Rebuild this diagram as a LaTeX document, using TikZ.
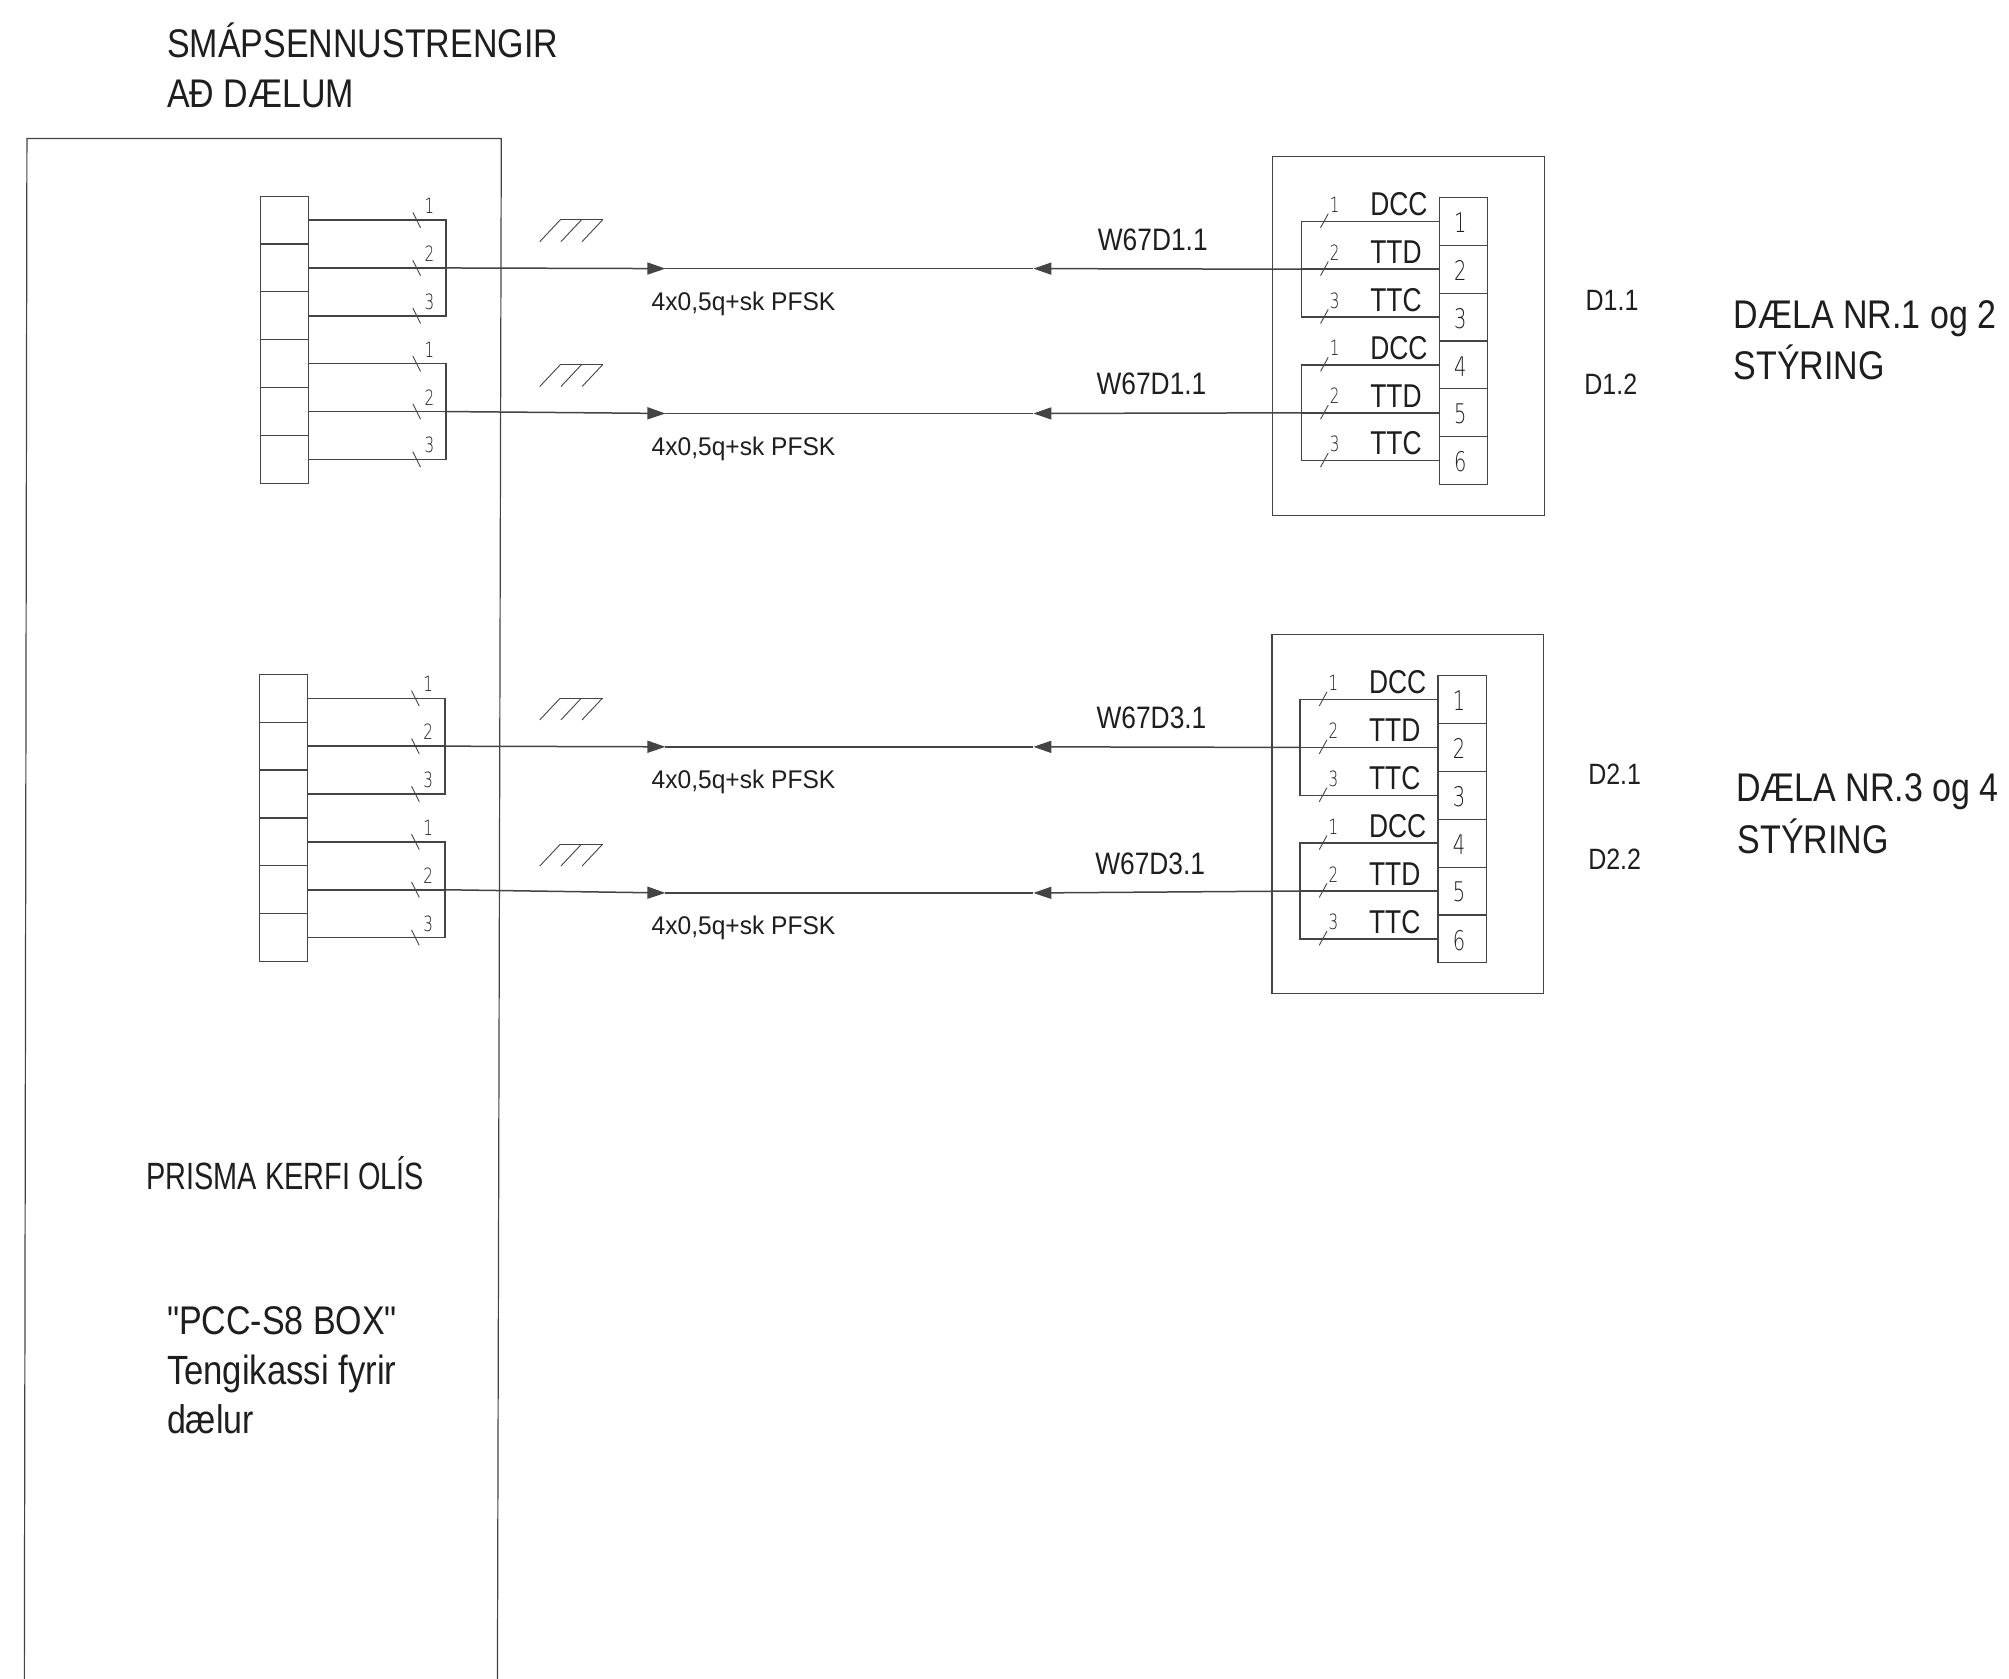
\documentclass[tikz,border=0pt]{standalone}
\usepackage{fontspec}
\usetikzlibrary{arrows.meta}
\setmainfont{Liberation Sans}
\newfontfamily\fa[FakeStretch=.85]{Liberation Sans}
\newfontfamily\fb[FakeStretch=.96]{Liberation Sans}
\newfontfamily\fc[FakeStretch=.76]{Liberation Sans}
\newfontfamily\fd[FakeStretch=.8]{Liberation Sans}
\newfontfamily\thinf[FakeStretch=.72]{DejaVu Sans ExtraLight}
\definecolor{ink}{HTML}{1E1E1E}
\definecolor{wirec}{HTML}{444444}
\tikzset{
  wire/.style={draw=wirec,line width=.75pt},
  boxline/.style={draw=wirec,line width=.6pt},
  cell/.style={draw=wirec,line width=.6pt,minimum width=24.2pt,minimum height=23.93pt,inner sep=0pt,outer sep=0pt},
  tick/.style={draw=wirec,line width=.45pt},
  lab/.style={anchor=base west,inner sep=0pt,text=ink},
  bigtxt/.style={lab,font=\fa\fontsize{20}{24}\selectfont},
  tengi/.style={lab,font=\fa\fontsize{20.4}{24}\selectfont},
  prisma/.style={lab,font=\fc\fontsize{19}{23}\selectfont},
  medtxt/.style={lab,font=\fa\fontsize{15.5}{18}\selectfont},
  dtxt/.style={lab,font=\fa\fontsize{14.7}{18}\selectfont},
  cabtxt/.style={lab,font=\fb\fontsize{12.8}{16}\selectfont},
  sigtxt/.style={lab,font=\fd\fontsize{16.5}{20}\selectfont},
  num/.style={inner sep=0pt,text=ink,font=\thinf\fontsize{13.5}{16}\selectfont},
  smallnum/.style={inner sep=0pt,text=ink,font=\thinf\fontsize{10.5}{13}\selectfont},
  tip/.style={-{Triangle[length=9pt,width=6pt]}},
}
% #1 id, #2 left x of left block, #3 top y of left block, #4 x of left bus
\newcommand{\leftblock}[4]{%
  \foreach \i in {1,...,6}{
    \node[cell] (L#1c\i) at ({#2+19},{#3+18.67+(\i-1)*37.33}) {};
  }
  \foreach \g/\a/\b/\c in {u/1/2/3,d/4/5/6}{
    \coordinate (L#1\g a) at (#4,{#3+18.67+(\a-1)*37.33});
    \coordinate (L#1\g b) at (#4,{#3+18.67+(\b-1)*37.33});
    \coordinate (L#1\g c) at (#4,{#3+18.67+(\c-1)*37.33});
    \draw[wire] (L#1c\a.east) -- (L#1\g a) -- (L#1\g c) -- (L#1c\c.east);
    \draw[wire] (L#1c\b.east) -- (L#1\g b);
  }
  \foreach \i/\t in {1/1,2/2,3/3,4/1,5/2,6/3}{
    \node[smallnum] (L#1n\i) at ({#4-13},{#3+18.67+(\i-1)*37.33-11}) {\t};
    \coordinate (L#1ta\i) at ({#4-26},{#3+18.67+(\i-1)*37.33-6});
    \coordinate (L#1tb\i) at ({#4-20},{#3+18.67+(\i-1)*37.33+6});
    \draw[tick] (L#1ta\i) -- (L#1tb\i);
  }
}
% #1 id, #2 left x of cells, #3 top y, #4 x of bus
\newcommand{\rightblock}[4]{%
  \foreach \i in {1,...,6}{
    \node[cell] (R#1c\i) at ({#2+18.5},{#3+18.67+(\i-1)*37.33}) {};
    \node[num] (R#1k\i) at ({#2+16},{#3+18.67+(\i-1)*37.33+1}) {\i};
  }
  \foreach \g/\a/\b/\c in {u/1/2/3,d/4/5/6}{
    \coordinate (R#1\g a) at (#4,{#3+18.67+(\a-1)*37.33});
    \coordinate (R#1\g b) at (#4,{#3+18.67+(\b-1)*37.33});
    \coordinate (R#1\g c) at (#4,{#3+18.67+(\c-1)*37.33});
    \draw[wire] (R#1c\a.west) -- (R#1\g a) -- (R#1\g c) -- (R#1c\c.west);
    \draw[wire] (R#1c\b.west) -- (R#1\g b);
  }
  \foreach \i/\t/\s in {1/1/DCC,2/2/TTD,3/3/TTC,4/1/DCC,5/2/TTD,6/3/TTC}{
    \node[smallnum] (R#1n\i) at ({#4+26},{#3+18.67+(\i-1)*37.33-13}) {\t};
    \coordinate (R#1ta\i) at ({#4+15},{#3+18.67+(\i-1)*37.33+5});
    \coordinate (R#1tb\i) at ({#4+21},{#3+18.67+(\i-1)*37.33-6});
    \draw[tick] (R#1ta\i) -- (R#1tb\i);
    \node[sigtxt] (R#1s\i) at ({#4+53.5},{#3+18.67+(\i-1)*37.33-4.5}) {\s};
  }
}
% #1 id, #2 left wire node, #3 right wire node, #4 y, #5 label x, #6 W label
\newcommand{\cable}[6]{%
  \coordinate (C#1a) at (519,#4);
  \coordinate (C#1b) at (806,#4);
  \draw[wire,tip] (#2) -- (C#1a);
  \draw[wire,tip] (#3) -- (C#1b);
  \draw[wire] (C#1a) -- (C#1b);
  \node[cabtxt] (C#1t) at (508,{#4+32.5}) {4x0,5q+sk PFSK};
  \node[medtxt] (C#1w) at (#5,{#4-14.5}) {#6};
  \foreach \k/\dx in {p/0,q/16.5,r/33}{
    \coordinate (C#1\k a) at ({421+\dx},{#4-21});
    \coordinate (C#1\k b) at ({437+\dx},{#4-38});
    \draw[tick] (C#1\k a) -- (C#1\k b);
  }
  \draw[tick] (C#1pb) -- (C#1rb);
}
\begin{document}
\begin{tikzpicture}[x=.6412pt,y=-.6412pt]
\useasboundingbox[fill=white] (0,0) rectangle (1567,1309.5);

% main cabinet
\coordinate (pa) at (19,1309.5);
\coordinate (pb) at (21,108);
\coordinate (pc) at (391,108);
\coordinate (pd) at (388,1309.5);
\draw[boxline] (pa) -- (pb) -- (pc) -- (pd);

\node[bigtxt] (t1) at (130,45) {SMÁPSENNUSTRENGIR};
\node[bigtxt] (t2) at (130,84) {AÐ DÆLUM};
\node[prisma] (t3) at (114,928) {PRISMA KERFI OLÍS};
\node[bigtxt] (t4) at (130,1041) {"PCC-S8 BOX"};
\node[tengi] (t5) at (130,1080) {Tengikassi fyrir};
\node[bigtxt] (t6) at (130,1118) {dælur};

% pump boxes
\node[boxline,minimum width=135.8pt,minimum height=179.5pt,inner sep=0pt] (B1) at (1098.5,262) {};
\node[boxline,minimum width=135.8pt,minimum height=179.5pt,inner sep=0pt] (B2) at (1098,635) {};

\leftblock{1}{203}{153}{348}
\leftblock{2}{202}{526}{347}
\rightblock{1}{1123}{154}{1015}
\rightblock{2}{1122}{527}{1014}

\cable{1}{L1ub}{R1ub}{209.5}{856}{W67D1.1}
\cable{2}{L1db}{R1db}{322.5}{855}{W67D1.1}
\cable{3}{L2ub}{R2ub}{582.5}{855}{W67D3.1}
\cable{4}{L2db}{R2db}{696.5}{854}{W67D3.1}

\node[dtxt] (d1) at (1236.5,242) {D1.1};
\node[dtxt] (d2) at (1235.5,308) {D1.2};
\node[dtxt] (d3) at (1238.5,612) {D2.1};
\node[dtxt] (d4) at (1238.5,678) {D2.2};

\node[bigtxt] (p1) at (1352,256) {DÆLA NR.1 og 2};
\node[bigtxt] (p2) at (1352,296) {STÝRING};
\node[bigtxt] (p3) at (1354,625) {DÆLA NR.3 og 4};
\node[bigtxt] (p4) at (1355,666) {STÝRING};
\end{tikzpicture}
\end{document}
